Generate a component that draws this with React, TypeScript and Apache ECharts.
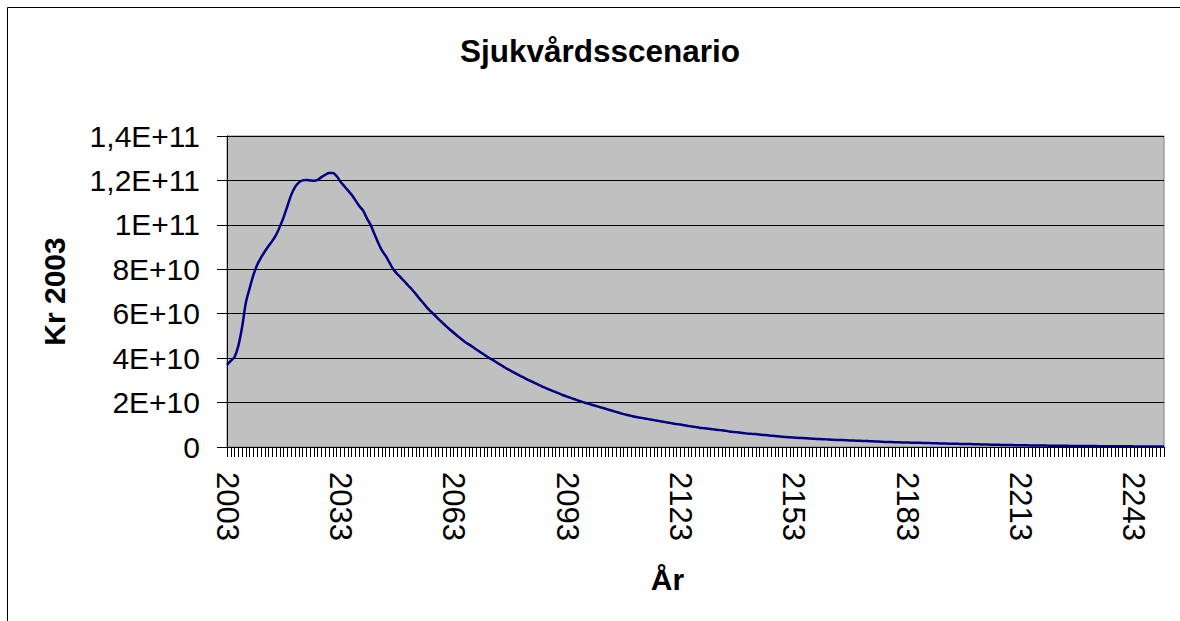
import React, { useEffect, useRef } from "react";
import * as echarts from "echarts";

const FIRST_YEAR = 2003;
const LAST_YEAR = 2251;
const years: string[] = [];
for (let y = FIRST_YEAR; y <= LAST_YEAR; y++) years.push(String(y));

// Values in billions of kronor (1E+9), one per year 2003..2251
const values2003_2052 = [
  37, 38.8, 40.5, 45.5, 54, 65, 71.5, 77.5, 82, 85.2,
  88, 90.5, 92.8, 95.5, 99.2, 103.5, 108.5, 113.5, 117, 119,
  120, 120.2, 120, 119.8, 120.2, 121.5, 122.5, 123.3, 123.3, 122,
  119.5, 117.5, 115.5, 113.5, 111, 108.5, 106.5, 103, 100, 96,
  92, 88.5, 86, 83, 80, 78, 76.3, 74.5, 72.6, 70.8,
];
const values2053_2102 = [
  68.8, 66.7, 64.7, 62.6, 60.9, 59.3, 57.6, 56, 54.4, 52.9,
  51.4, 50, 48.6, 47.3, 46.2, 45.1, 43.9, 42.8, 41.6, 40.5,
  39.5, 38.5, 37.4, 36.4, 35.3, 34.4, 33.5, 32.6, 31.7, 30.8,
  30, 29.2, 28.4, 27.6, 26.8, 26.1, 25.4, 24.7, 24, 23.3,
  22.7, 22.1, 21.5, 20.9, 20.3, 19.8, 19.3, 18.8, 18.3, 17.8,
];
const values2103_2152 = [
  17.3, 16.8, 16.3, 15.8, 15.3, 14.8, 14.4, 14, 13.6, 13.3,
  13, 12.7, 12.4, 12.1, 11.8, 11.5, 11.2, 10.9, 10.6, 10.3,
  10.1, 9.8, 9.5, 9.2, 9.0, 8.7, 8.5, 8.3, 8.1, 7.9,
  7.7, 7.5, 7.3, 7.0, 6.8, 6.6, 6.4, 6.2, 6.0, 5.9,
  5.8, 5.6, 5.4, 5.3, 5.1, 5.0, 4.8, 4.6, 4.5, 4.35,
];
const values2153_2202 = [
  4.25, 4.15, 4.05, 3.95, 3.85, 3.75, 3.65, 3.55, 3.5, 3.4,
  3.3, 3.2, 3.15, 3.1, 3.0, 2.95, 2.9, 2.8, 2.75, 2.7,
  2.6, 2.55, 2.45, 2.4, 2.3, 2.25, 2.2, 2.15, 2.1, 2.05,
  2.0, 1.95, 1.9, 1.9, 1.85, 1.8, 1.75, 1.7, 1.65, 1.6,
  1.55, 1.5, 1.5, 1.45, 1.4, 1.4, 1.35, 1.3, 1.25, 1.2,
];
const values2203_2251 = [
  1.15, 1.1, 1.05, 1.0, 0.98, 0.95, 0.9, 0.88, 0.85, 0.82,
  0.8, 0.77, 0.74, 0.72, 0.7, 0.67, 0.65, 0.62, 0.6, 0.58,
  0.56, 0.54, 0.52, 0.5, 0.49, 0.47, 0.46, 0.44, 0.43, 0.41,
  0.4, 0.38, 0.37, 0.36, 0.34, 0.33, 0.32, 0.31, 0.3, 0.29,
  0.28, 0.27, 0.26, 0.25, 0.24, 0.23, 0.22, 0.21, 0.2,
];
const valuesBillions = [
  ...values2003_2052,
  ...values2053_2102,
  ...values2103_2152,
  ...values2153_2202,
  ...values2203_2251,
];

const Y_MAX = 1.4e11;
const Y_STEP = 2e10;
const TITLE = "Sjukvårdsscenario";
const Y_NAME = "Kr 2003";
const X_NAME = "År";

const FONT = "'Liberation Sans', Arial, Helvetica, sans-serif";

function excelSci(v: number): string {
  if (v === 0) return "0";
  const exp = Math.floor(Math.log10(v) + 1e-9);
  const m = Math.round((v / Math.pow(10, exp)) * 10) / 10;
  const ms = String(m).replace(".", ",");
  return ms + "E+" + exp;
}

export default function App() {
  const ref = useRef<HTMLDivElement>(null);
  useEffect(() => {
    document.body.style.margin = "0";
    if (!ref.current) return;
    const chart = echarts.init(ref.current, undefined, { renderer: "svg" });
    chart.setOption({
      animation: false,
      backgroundColor: "#ffffff",
      title: {
        text: TITLE,
        left: 595,
        top: 30,
        textAlign: "center",
        textStyle: { fontFamily: FONT, fontSize: 31.5, fontWeight: "bold", color: "#000" },
      },
      graphic: [
        {
          type: "rect",
          shape: { x: 7.5, y: 7.5, width: 1300, height: 800 },
          style: { fill: "none", stroke: "#000", lineWidth: 1 },
          silent: true,
        },
      ],
      grid: {
        left: 227,
        top: 136,
        width: 937,
        height: 311,
        show: true,
        backgroundColor: "#c0c0c0",
        borderColor: "#808080",
        borderWidth: 1,
      },
      xAxis: {
        type: "category",
        data: years,
        boundaryGap: false,
        name: X_NAME,
        nameLocation: "middle",
        nameGap: 117,
        nameTextStyle: {
          fontFamily: FONT,
          fontSize: 30,
          fontWeight: "bold",
          color: "#000",
          padding: [0, 56, 0, 0],
        },
        axisLine: { lineStyle: { color: "#000", width: 1 } },
        axisTick: { show: true, interval: 0, length: 10, lineStyle: { color: "#000" } },
        axisLabel: {
          interval: 29,
          rotate: -90,
          margin: 25,
          fontFamily: FONT,
          fontSize: 31,
          color: "#000",
        },
        splitLine: { show: false },
      },
      yAxis: {
        type: "value",
        min: 0,
        max: Y_MAX,
        interval: Y_STEP,
        name: Y_NAME,
        nameLocation: "middle",
        nameRotate: 90,
        nameGap: 158,
        nameTextStyle: { fontFamily: FONT, fontSize: 30, fontWeight: "bold", color: "#000" },
        axisLine: { show: true, lineStyle: { color: "#000", width: 1 } },
        axisTick: { show: true, length: 10, lineStyle: { color: "#000" } },
        axisLabel: {
          formatter: (v: number) => excelSci(v),
          margin: 27,
          fontFamily: FONT,
          fontSize: 30,
          color: "#000",
        },
        splitLine: { show: true, lineStyle: { color: "#000", width: 1 } },
      },
      series: [
        {
          type: "line",
          data: valuesBillions.map((v) => v * 1e9),
          smooth: 0.3,
          showSymbol: false,
          symbol: "none",
          lineStyle: { color: "#000080", width: 2.5 },
        },
      ],
    });
    return () => chart.dispose();
  }, []);
  return <div ref={ref} style={{ width: 1180, height: 621 }} />;
}
